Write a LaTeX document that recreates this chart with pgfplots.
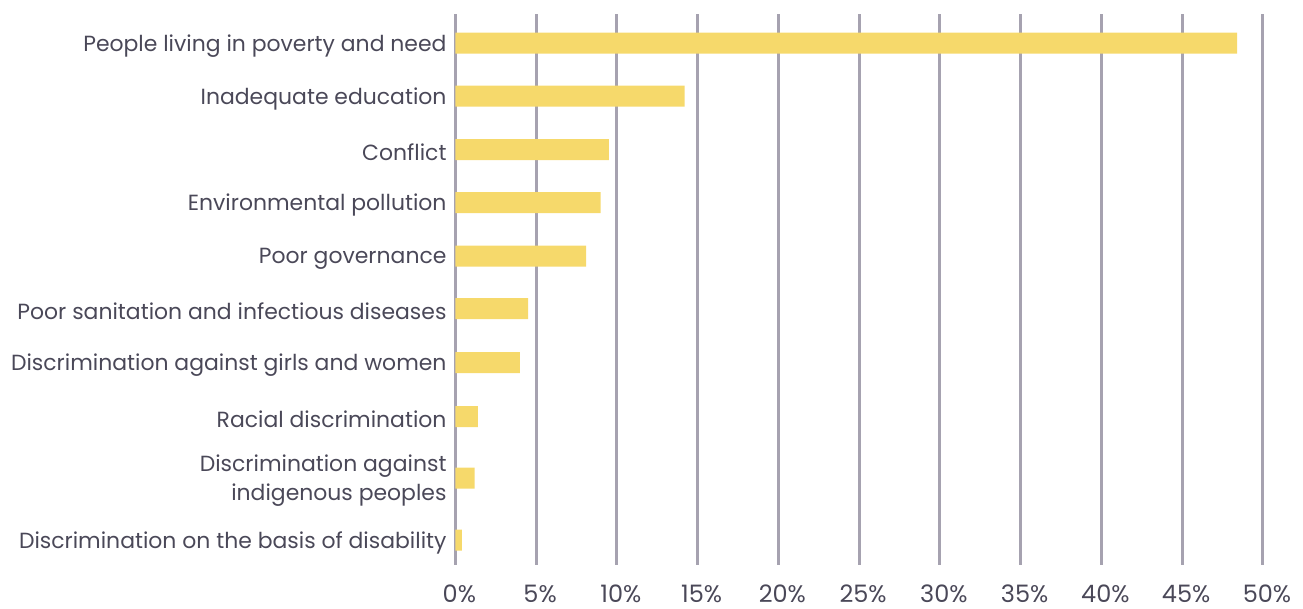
\documentclass[border=0pt]{standalone}
\usepackage{fontspec}
\setmainfont{Poppins}
\usepackage{pgfplots}
\pgfplotsset{compat=1.18}
\definecolor{barc}{HTML}{F6D96B}
\definecolor{gridc}{HTML}{A6A2B0}
\definecolor{txt}{HTML}{4A4858}
\begin{document}
\begin{tikzpicture}
\begin{axis}[
  scale only axis,
  width=323pt, height=220.4pt,
  xmin=0, xmax=50, ymin=14, ymax=565,
  y dir=reverse,
  clip=false,
  axis line style={draw=none},
  major tick length=0pt,
  xtick={0,5,...,50},
  xticklabel={\pgfmathprintnumber{\tick}\%},
  /pgf/number format/assume math mode=true,
  xmajorgrids,
  grid style={gridc, line width=1.2pt},
  ytick={43,96,149.5,202.5,256,308.5,362.5,416.5,478,540},
  yticklabels={People living in poverty and need,Inadequate education,Conflict,Environmental pollution,Poor governance,Poor sanitation and infectious diseases,Discrimination against girls and women,Racial discrimination,{Discrimination against\\indigenous peoples},Discrimination on the basis of disability},
  yticklabel style={font=\fontsize{8.77}{11.6}\selectfont, text=txt, align=right, xshift=0pt, yshift=-1.1pt},
  xticklabel style={font=\fontsize{9.6}{12}\selectfont, text=txt, yshift=-4.3pt, xshift=1.6pt},
  every tick label/.append style={text=txt},
]
\addplot[xbar, bar width=21, fill=barc, draw=none] coordinates {
 (48.4,43) (14.2,96) (9.5,149.5) (9.0,202.5) (8.1,256) (4.5,308.5) (4.0,362.5) (1.4,416.5) (1.2,478) (0.4,540)};
\coordinate (bbA) at (axis cs:-28.19,0);
\coordinate (bbB) at (axis cs:52.48,608);
\end{axis}
\pgfresetboundingbox
\path[use as bounding box] (bbA) rectangle (bbB);
\end{tikzpicture}
\end{document}
